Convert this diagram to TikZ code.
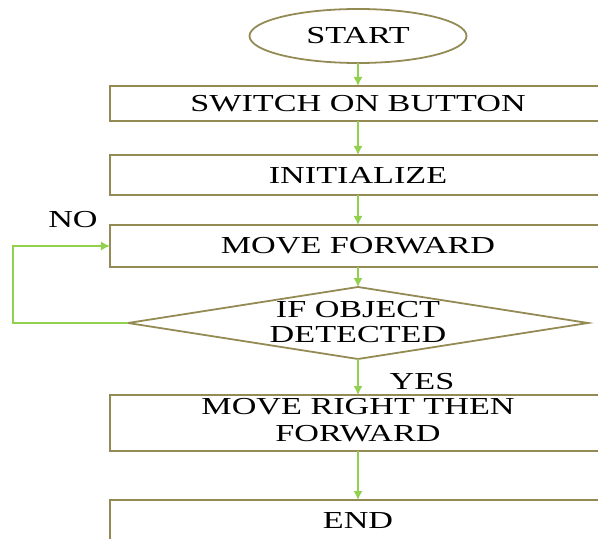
\documentclass[tikz,border=0pt]{standalone}
\usepackage{fontspec}
\setmainfont{Liberation Serif}
\usetikzlibrary{arrows.meta}
\usetikzlibrary{shapes.geometric}
\definecolor{myolive}{RGB}{148,138,84}
\definecolor{mygreen}{RGB}{146,208,80}
\newcommand{\wtxt}[1]{\scalebox{1.4}[1]{#1}}
\tikzset{
  box/.style={draw=myolive, line width=2.2, rectangle, inner sep=0pt, outer sep=0pt,
    minimum width=496bp, minimum height=#1, font=\fontsize{24.5}{27}\selectfont},
  startend/.style={draw=myolive, line width=1.8, ellipse, inner sep=0pt, outer sep=0pt,
    minimum width=217bp, minimum height=54bp, font=\fontsize{24.5}{27}\selectfont},
  decision/.style={draw=myolive, line width=1.8, diamond, inner sep=0pt, outer sep=0pt,
    minimum width=460bp, minimum height=72bp},
  lbl/.style={inner sep=0pt, font=\fontsize{24.5}{24.5}\selectfont},
  flow/.style={draw=mygreen, line width=1.5},
  flowarrow/.style={flow, -{Latex[length=9bp,width=9bp]}}
}

\begin{document}
\begin{tikzpicture}[x=1bp, y=-1bp]
\useasboundingbox (0,0) rectangle (598,539);
\clip (0,0) rectangle (598,539);

\node[startend] (start) at (358,36) {\wtxt{START}};
\node[box=35bp] (switch) at (358,103.5) {\wtxt{SWITCH ON BUTTON}};
\node[box=40bp] (init) at (358,175) {\wtxt{INITIALIZE}};
\node[box=42bp] (fwd) at (358,246) {\wtxt{MOVE FORWARD}};
\node[decision] (check) at (358,323) {};
\node[lbl] (checktxt) at (358,325) {\wtxt{\begin{tabular}{@{}c@{}}IF OBJECT\\DETECTED\end{tabular}}};
\node[box=56bp] (right) at (358,423) {\wtxt{\begin{tabular}{@{}c@{}}MOVE RIGHT THEN\\FORWARD\end{tabular}}};
\node[box=42bp] (stop) at (358,521) {\wtxt{END}};

% connectors
\draw[flowarrow] (start) -- (switch);
\draw[flowarrow] (switch) -- (init);
\draw[flowarrow] (init) -- (fwd);
\draw[flowarrow] (fwd) -- (check);
\draw[flowarrow] (check) -- (right);
\draw[flowarrow] (right) -- (stop);
\draw[flowarrow] (check.west) -- ++(-115,0) |- (fwd.west);

\node[lbl] (no) at (73,219.5) {\wtxt{NO}};
\node[lbl] (yes) at (422,382) {\wtxt{YES}};
\end{tikzpicture}
\end{document}
